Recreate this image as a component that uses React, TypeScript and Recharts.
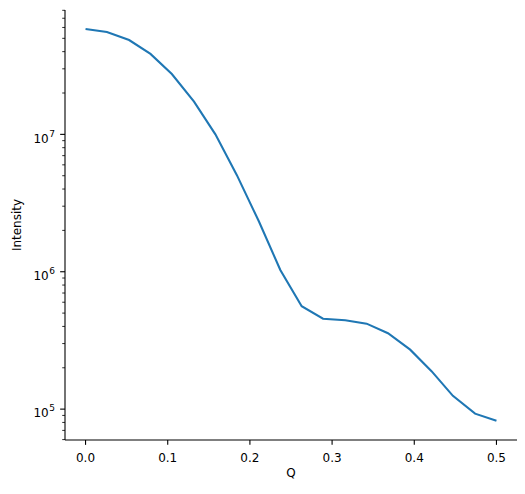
import React from 'react';
import { LineChart, Line, XAxis, YAxis } from 'recharts';

// Q values (x) and measured intensity (log scale)
const qValues = [
  0, 0.026, 0.053, 0.079, 0.105, 0.132, 0.158, 0.184, 0.211, 0.237,
  0.263, 0.289, 0.316, 0.342, 0.368, 0.395, 0.421, 0.447, 0.474, 0.5,
];
const intensityValues = [
  5.85e7, 5.56e7, 4.86e7, 3.85e7, 2.75e7, 1.73e7, 1.0e7, 5.07e6, 2.32e6, 1.03e6,
  5.61e5, 4.55e5, 4.43e5, 4.19e5, 3.57e5, 2.71e5, 1.89e5, 1.25e5, 9.27e4, 8.24e4,
];

const xTicks = [0, 0.1, 0.2, 0.3, 0.4, 0.5];
const yMajorTicks = [1e5, 1e6, 1e7];
const yMinorTicks = [
  6e4, 7e4, 8e4, 9e4,
  2e5, 3e5, 4e5, 5e5, 6e5, 7e5, 8e5, 9e5,
  2e6, 3e6, 4e6, 5e6, 6e6, 7e6, 8e6, 9e6,
  2e7, 3e7, 4e7, 5e7, 6e7, 7e7, 8e7,
];

const data = qValues.map((q, i) => ({ q, intensity: intensityValues[i] }));

const FONT = 'DejaVu Sans, sans-serif';
const FS = 12;

const renderYTick = (props: any) => {
  const { x, y, payload } = props;
  const v = payload.value;
  const exp = Math.round(Math.log10(v));
  const isMajor = yMajorTicks.includes(v);
  if (!isMajor) {
    return <line x1={x} x2={x - 2.78} y1={y} y2={y} stroke="#000" strokeWidth={0.83} />;
  }
  return (
    <g>
      <line x1={x} x2={x - 4.86} y1={y} y2={y} stroke="#000" strokeWidth={1.1} />
      <text x={x - 10} y={y + 8.2} textAnchor="end" fontFamily={FONT} fontSize={FS} fill="#000">
        <tspan>10</tspan>
        <tspan dx={0.6} dy={-6} fontSize={9}>{exp}</tspan>
      </text>
    </g>
  );
};

const renderYLabel = (props: any) => {
  const vb = props.viewBox;
  const cx = vb.x + 20.5;
  const cy = vb.y + vb.height / 2;
  return (
    <text x={cx} y={cy} transform={`rotate(-90 ${cx} ${cy})`} textAnchor="middle" fontFamily={FONT} fontSize={FS} fill="#000">
      Intensity
    </text>
  );
};

export default function App() {
  return (
    <div style={{ position: 'absolute', left: 0, top: 0, background: '#fff' }}>
      <LineChart width={525} height={494} data={data} margin={{ top: 10, right: 8, bottom: 0, left: 0 }}>
        <XAxis
          dataKey="q"
          type="number"
          domain={[-0.025, 0.525]}
          allowDataOverflow
          ticks={xTicks}
          interval={0}
          tickFormatter={(v: number) => v.toFixed(1)}
          height={54}
          tickSize={4.86}
          tickMargin={9}
          axisLine={{ stroke: '#000', strokeWidth: 1.1 }}
          tickLine={{ stroke: '#000', strokeWidth: 1.1 }}
          tick={{ fill: '#000', fontFamily: FONT, fontSize: FS }}
          label={{ value: 'Q', position: 'insideBottom', offset: 17.5, fill: '#000', fontFamily: FONT, fontSize: FS }}
        />
        <YAxis
          type="number"
          scale="log"
          domain={[5.96e4, 8.04e7]}
          allowDataOverflow
          ticks={[...yMinorTicks, ...yMajorTicks].sort((a, b) => a - b)}
          interval={0}
          width={65}
          tickSize={0}
          tickMargin={0}
          tickLine={false}
          axisLine={{ stroke: '#000', strokeWidth: 1.1 }}
          tick={renderYTick}
          label={renderYLabel}
        />
        <Line
          type="linear"
          dataKey="intensity"
          stroke="#1f77b4"
          strokeWidth={2.08}
          dot={false}
          activeDot={false}
          isAnimationActive={false}
        />
      </LineChart>
    </div>
  );
}
